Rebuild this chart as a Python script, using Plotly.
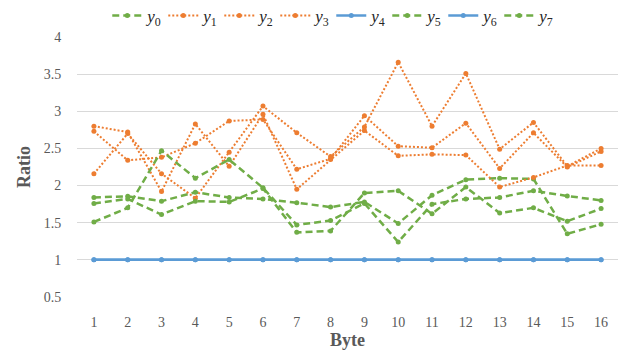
import plotly.graph_objects as go

bytes_x = list(range(1, 17))
tick_labels = [str(i) for i in bytes_x]

y0 = [1.84, 1.855, 1.79, 1.91, 1.84, 1.82, 1.77, 1.71, 1.78, 1.49, 1.87, 2.08, 2.10, 2.09, 1.35, 1.48]
y1 = [2.73, 2.34, 2.38, 2.57, 2.87, 2.89, 2.22, 2.36, 2.94, 2.53, 2.51, 2.84, 2.23, 2.71, 2.25, 2.46]
y2 = [2.80, 2.72, 1.92, 2.83, 2.26, 2.96, 1.95, 2.35, 2.74, 2.40, 2.42, 2.41, 1.98, 2.11, 2.27, 2.27]
y3 = [2.16, 2.70, 2.16, 1.83, 2.45, 3.07, 2.71, 2.39, 2.79, 3.66, 2.80, 3.51, 2.49, 2.85, 2.26, 2.50]
y4 = [1.0] * 16
y5 = [1.76, 1.82, 1.61, 1.79, 1.78, 1.96, 1.37, 1.39, 1.90, 1.93, 1.62, 1.98, 1.63, 1.70, 1.52, 1.69]
y6 = [1.0] * 16
y7 = [1.51, 1.70, 2.47, 2.10, 2.35, 1.97, 1.47, 1.53, 1.76, 1.24, 1.75, 1.82, 1.84, 1.93, 1.86, 1.80]

GREEN = "#70AD47"
ORANGE = "#ED7D31"
BLUE = "#5B9BD5"

series = [
    ("0", y0, GREEN, "7px,4px", 2.5),
    ("1", y1, ORANGE, "2px,2px", 2),
    ("2", y2, ORANGE, "2px,2px", 2),
    ("3", y3, ORANGE, "2px,2px", 2),
    ("4", y4, BLUE, "solid", 2.5),
    ("5", y5, GREEN, "7px,4px", 2.5),
    ("6", y6, BLUE, "solid", 2.5),
    ("7", y7, GREEN, "7px,4px", 2.5),
]

fig = go.Figure()
for idx, vals, col, dash, w in series:
    fig.add_trace(go.Scatter(
        x=bytes_x, y=vals, mode="lines+markers",
        name=f"<i>y</i><sub>{idx}</sub>",
        line=dict(color=col, width=w, dash=dash),
        marker=dict(color=col, size=5),
    ))

SERIF = "Liberation Serif"
fig.update_layout(
    width=622, height=352,
    margin=dict(l=77, r=4, t=37, b=55, autoexpand=False),
    paper_bgcolor="white", plot_bgcolor="white",
    font=dict(family=SERIF, color="#595959", size=13),
    legend=dict(
        orientation="h", x=0.47, xanchor="center",
        yref="container", y=0.955, yanchor="middle",
        font=dict(family=SERIF, size=17, color="#262626"),
        entrywidth=11, entrywidthmode="pixels", itemwidth=30,
        bgcolor="rgba(0,0,0,0)", tracegroupgap=0,
    ),
    xaxis=dict(
        range=[0.5, 16.5], tickmode="array", tickvals=bytes_x, ticktext=tick_labels,
        showgrid=False, zeroline=False, showline=False,
        ticks="outside", ticklen=12, tickcolor="rgba(0,0,0,0)",
        tickfont=dict(family=SERIF, size=14, color="#595959"),
        title=dict(text="<b>Byte</b>", font=dict(family=SERIF, size=18, color="#595959"), standoff=4),
    ),
    yaxis=dict(
        range=[0.5, 4], tickmode="array", tickvals=[0.5, 1, 1.5, 2, 2.5, 3, 3.5, 4],
        ticktext=["0.5", "1", "1.5", "2", "2.5", "3", "3.5", "4"],
        showgrid=True, gridcolor="#D9D9D9", gridwidth=1, zeroline=False, showline=False,
        ticks="outside", ticklen=12, tickcolor="rgba(0,0,0,0)",
        tickfont=dict(family=SERIF, size=14, color="#595959"),
        title=dict(text="<b>Ratio</b>", font=dict(family=SERIF, size=18, color="#595959"), standoff=8),
    ),
    showlegend=True,
)

fig.write_html("out.html")
